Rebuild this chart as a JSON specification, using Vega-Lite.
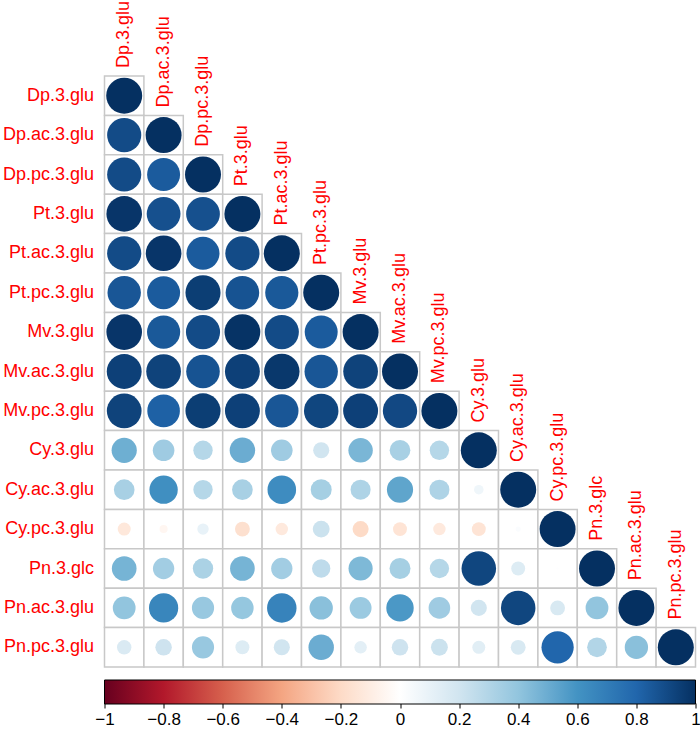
{
"$schema": "https://vega.github.io/schema/vega-lite/v6.json",
"width": 591, "height": 591,
"autosize": "none",
"padding": {"left": 104.5, "top": 76, "right": 4.5, "bottom": 63},
"background": "white",
"config": {"view": {"stroke": null}, "font": "Liberation Sans"},
"datasets": {
"vars": [{"v":"Dp.3.glu"},{"v":"Dp.ac.3.glu"},{"v":"Dp.pc.3.glu"},{"v":"Pt.3.glu"},{"v":"Pt.ac.3.glu"},{"v":"Pt.pc.3.glu"},{"v":"Mv.3.glu"},{"v":"Mv.ac.3.glu"},{"v":"Mv.pc.3.glu"},{"v":"Cy.3.glu"},{"v":"Cy.ac.3.glu"},{"v":"Cy.pc.3.glu"},{"v":"Pn.3.glc"},{"v":"Pn.ac.3.glu"},{"v":"Pn.pc.3.glu"}],
"cells": [
{"a":"Dp.3.glu","b":"Dp.3.glu","r":1},
{"a":"Dp.ac.3.glu","b":"Dp.3.glu","r":0.9},{"a":"Dp.ac.3.glu","b":"Dp.ac.3.glu","r":1},
{"a":"Dp.pc.3.glu","b":"Dp.3.glu","r":0.9},{"a":"Dp.pc.3.glu","b":"Dp.ac.3.glu","r":0.84},{"a":"Dp.pc.3.glu","b":"Dp.pc.3.glu","r":1},
{"a":"Pt.3.glu","b":"Dp.3.glu","r":0.98},{"a":"Pt.3.glu","b":"Dp.ac.3.glu","r":0.88},{"a":"Pt.3.glu","b":"Dp.pc.3.glu","r":0.88},{"a":"Pt.3.glu","b":"Pt.3.glu","r":1},
{"a":"Pt.ac.3.glu","b":"Dp.3.glu","r":0.9},{"a":"Pt.ac.3.glu","b":"Dp.ac.3.glu","r":0.98},{"a":"Pt.ac.3.glu","b":"Dp.pc.3.glu","r":0.84},{"a":"Pt.ac.3.glu","b":"Pt.3.glu","r":0.9},{"a":"Pt.ac.3.glu","b":"Pt.ac.3.glu","r":1},
{"a":"Pt.pc.3.glu","b":"Dp.3.glu","r":0.86},{"a":"Pt.pc.3.glu","b":"Dp.ac.3.glu","r":0.84},{"a":"Pt.pc.3.glu","b":"Dp.pc.3.glu","r":0.95},{"a":"Pt.pc.3.glu","b":"Pt.3.glu","r":0.87},{"a":"Pt.pc.3.glu","b":"Pt.ac.3.glu","r":0.85},{"a":"Pt.pc.3.glu","b":"Pt.pc.3.glu","r":1},
{"a":"Mv.3.glu","b":"Dp.3.glu","r":0.98},{"a":"Mv.3.glu","b":"Dp.ac.3.glu","r":0.85},{"a":"Mv.3.glu","b":"Dp.pc.3.glu","r":0.9},{"a":"Mv.3.glu","b":"Pt.3.glu","r":0.99},{"a":"Mv.3.glu","b":"Pt.ac.3.glu","r":0.9},{"a":"Mv.3.glu","b":"Pt.pc.3.glu","r":0.84},{"a":"Mv.3.glu","b":"Mv.3.glu","r":1},
{"a":"Mv.ac.3.glu","b":"Dp.3.glu","r":0.94},{"a":"Mv.ac.3.glu","b":"Dp.ac.3.glu","r":0.93},{"a":"Mv.ac.3.glu","b":"Dp.pc.3.glu","r":0.87},{"a":"Mv.ac.3.glu","b":"Pt.3.glu","r":0.94},{"a":"Mv.ac.3.glu","b":"Pt.ac.3.glu","r":0.97},{"a":"Mv.ac.3.glu","b":"Pt.pc.3.glu","r":0.86},{"a":"Mv.ac.3.glu","b":"Mv.3.glu","r":0.93},{"a":"Mv.ac.3.glu","b":"Mv.ac.3.glu","r":1},
{"a":"Mv.pc.3.glu","b":"Dp.3.glu","r":0.93},{"a":"Mv.pc.3.glu","b":"Dp.ac.3.glu","r":0.82},{"a":"Mv.pc.3.glu","b":"Dp.pc.3.glu","r":0.95},{"a":"Mv.pc.3.glu","b":"Pt.3.glu","r":0.94},{"a":"Mv.pc.3.glu","b":"Pt.ac.3.glu","r":0.86},{"a":"Mv.pc.3.glu","b":"Pt.pc.3.glu","r":0.92},{"a":"Mv.pc.3.glu","b":"Mv.3.glu","r":0.94},{"a":"Mv.pc.3.glu","b":"Mv.ac.3.glu","r":0.91},{"a":"Mv.pc.3.glu","b":"Mv.pc.3.glu","r":1},
{"a":"Cy.3.glu","b":"Dp.3.glu","r":0.49},{"a":"Cy.3.glu","b":"Dp.ac.3.glu","r":0.36},{"a":"Cy.3.glu","b":"Dp.pc.3.glu","r":0.29},{"a":"Cy.3.glu","b":"Pt.3.glu","r":0.5},{"a":"Cy.3.glu","b":"Pt.ac.3.glu","r":0.36},{"a":"Cy.3.glu","b":"Pt.pc.3.glu","r":0.2},{"a":"Cy.3.glu","b":"Mv.3.glu","r":0.46},{"a":"Cy.3.glu","b":"Mv.ac.3.glu","r":0.33},{"a":"Cy.3.glu","b":"Mv.pc.3.glu","r":0.29},{"a":"Cy.3.glu","b":"Cy.3.glu","r":1},
{"a":"Cy.ac.3.glu","b":"Dp.3.glu","r":0.33},{"a":"Cy.ac.3.glu","b":"Dp.ac.3.glu","r":0.62},{"a":"Cy.ac.3.glu","b":"Dp.pc.3.glu","r":0.29},{"a":"Cy.ac.3.glu","b":"Pt.3.glu","r":0.33},{"a":"Cy.ac.3.glu","b":"Pt.ac.3.glu","r":0.63},{"a":"Cy.ac.3.glu","b":"Pt.pc.3.glu","r":0.34},{"a":"Cy.ac.3.glu","b":"Mv.3.glu","r":0.31},{"a":"Cy.ac.3.glu","b":"Mv.ac.3.glu","r":0.53},{"a":"Cy.ac.3.glu","b":"Mv.pc.3.glu","r":0.31},{"a":"Cy.ac.3.glu","b":"Cy.3.glu","r":0.07},{"a":"Cy.ac.3.glu","b":"Cy.ac.3.glu","r":1},
{"a":"Cy.pc.3.glu","b":"Dp.3.glu","r":-0.13},{"a":"Cy.pc.3.glu","b":"Dp.ac.3.glu","r":-0.05},{"a":"Cy.pc.3.glu","b":"Dp.pc.3.glu","r":0.1},{"a":"Cy.pc.3.glu","b":"Pt.3.glu","r":-0.17},{"a":"Cy.pc.3.glu","b":"Pt.ac.3.glu","r":-0.12},{"a":"Cy.pc.3.glu","b":"Pt.pc.3.glu","r":0.22},{"a":"Cy.pc.3.glu","b":"Mv.3.glu","r":-0.2},{"a":"Cy.pc.3.glu","b":"Mv.ac.3.glu","r":-0.15},{"a":"Cy.pc.3.glu","b":"Mv.pc.3.glu","r":-0.12},{"a":"Cy.pc.3.glu","b":"Cy.3.glu","r":-0.15},{"a":"Cy.pc.3.glu","b":"Cy.ac.3.glu","r":0.02},{"a":"Cy.pc.3.glu","b":"Cy.pc.3.glu","r":1},
{"a":"Pn.3.glc","b":"Dp.3.glu","r":0.47},{"a":"Pn.3.glc","b":"Dp.ac.3.glu","r":0.35},{"a":"Pn.3.glc","b":"Dp.pc.3.glu","r":0.32},{"a":"Pn.3.glc","b":"Pt.3.glu","r":0.47},{"a":"Pn.3.glc","b":"Pt.ac.3.glu","r":0.35},{"a":"Pn.3.glc","b":"Pt.pc.3.glu","r":0.26},{"a":"Pn.3.glc","b":"Mv.3.glu","r":0.45},{"a":"Pn.3.glc","b":"Mv.ac.3.glu","r":0.34},{"a":"Pn.3.glc","b":"Mv.pc.3.glu","r":0.29},{"a":"Pn.3.glc","b":"Cy.3.glu","r":0.92},{"a":"Pn.3.glc","b":"Cy.ac.3.glu","r":0.15},{"a":"Pn.3.glc","b":"Cy.pc.3.glu","r":0.005},{"a":"Pn.3.glc","b":"Pn.3.glc","r":1},
{"a":"Pn.ac.3.glu","b":"Dp.3.glu","r":0.4},{"a":"Pn.ac.3.glu","b":"Dp.ac.3.glu","r":0.66},{"a":"Pn.ac.3.glu","b":"Dp.pc.3.glu","r":0.38},{"a":"Pn.ac.3.glu","b":"Pt.3.glu","r":0.39},{"a":"Pn.ac.3.glu","b":"Pt.ac.3.glu","r":0.67},{"a":"Pn.ac.3.glu","b":"Pt.pc.3.glu","r":0.42},{"a":"Pn.ac.3.glu","b":"Mv.3.glu","r":0.37},{"a":"Pn.ac.3.glu","b":"Mv.ac.3.glu","r":0.58},{"a":"Pn.ac.3.glu","b":"Mv.pc.3.glu","r":0.36},{"a":"Pn.ac.3.glu","b":"Cy.3.glu","r":0.2},{"a":"Pn.ac.3.glu","b":"Cy.ac.3.glu","r":0.92},{"a":"Pn.ac.3.glu","b":"Cy.pc.3.glu","r":0.17},{"a":"Pn.ac.3.glu","b":"Pn.3.glc","r":0.4},{"a":"Pn.ac.3.glu","b":"Pn.ac.3.glu","r":1},
{"a":"Pn.pc.3.glu","b":"Dp.3.glu","r":0.16},{"a":"Pn.pc.3.glu","b":"Dp.ac.3.glu","r":0.21},{"a":"Pn.pc.3.glu","b":"Dp.pc.3.glu","r":0.38},{"a":"Pn.pc.3.glu","b":"Pt.3.glu","r":0.15},{"a":"Pn.pc.3.glu","b":"Pt.ac.3.glu","r":0.2},{"a":"Pn.pc.3.glu","b":"Pt.pc.3.glu","r":0.5},{"a":"Pn.pc.3.glu","b":"Mv.3.glu","r":0.12},{"a":"Pn.pc.3.glu","b":"Mv.ac.3.glu","r":0.21},{"a":"Pn.pc.3.glu","b":"Mv.pc.3.glu","r":0.22},{"a":"Pn.pc.3.glu","b":"Cy.3.glu","r":0.13},{"a":"Pn.pc.3.glu","b":"Cy.ac.3.glu","r":0.17},{"a":"Pn.pc.3.glu","b":"Cy.pc.3.glu","r":0.8},{"a":"Pn.pc.3.glu","b":"Pn.3.glc","r":0.3},{"a":"Pn.pc.3.glu","b":"Pn.ac.3.glu","r":0.42},{"a":"Pn.pc.3.glu","b":"Pn.pc.3.glu","r":1}
]
},
"layer": [
{
"data": {"name": "cells"},
"mark": {"type": "rect", "fill": "white", "stroke": "#c8c8c8", "strokeWidth": 1.5},
"encoding": {
"x": {"field": "b", "type": "nominal", "scale": {"type": "band", "domain": ["Dp.3.glu","Dp.ac.3.glu","Dp.pc.3.glu","Pt.3.glu","Pt.ac.3.glu","Pt.pc.3.glu","Mv.3.glu","Mv.ac.3.glu","Mv.pc.3.glu","Cy.3.glu","Cy.ac.3.glu","Cy.pc.3.glu","Pn.3.glc","Pn.ac.3.glu","Pn.pc.3.glu"], "paddingInner": 0, "paddingOuter": 0}, "axis": null},
"y": {"field": "a", "type": "nominal", "scale": {"type": "band", "domain": ["Dp.3.glu","Dp.ac.3.glu","Dp.pc.3.glu","Pt.3.glu","Pt.ac.3.glu","Pt.pc.3.glu","Mv.3.glu","Mv.ac.3.glu","Mv.pc.3.glu","Cy.3.glu","Cy.ac.3.glu","Cy.pc.3.glu","Pn.3.glc","Pn.ac.3.glu","Pn.pc.3.glu"], "paddingInner": 0, "paddingOuter": 0}, "axis": {"orient": "left", "domain": false, "ticks": false, "grid": false, "title": null, "labelColor": "#ff0000", "labelFontSize": 18, "labelFont": "Liberation Sans", "labelPadding": 11, "labelLimit": 0}}
}
},
{
"data": {"name": "cells"},
"mark": {"type": "circle", "opacity": 1},
"encoding": {
"x": {"field": "b", "type": "nominal", "scale": {"type": "band", "domain": ["Dp.3.glu","Dp.ac.3.glu","Dp.pc.3.glu","Pt.3.glu","Pt.ac.3.glu","Pt.pc.3.glu","Mv.3.glu","Mv.ac.3.glu","Mv.pc.3.glu","Cy.3.glu","Cy.ac.3.glu","Cy.pc.3.glu","Pn.3.glc","Pn.ac.3.glu","Pn.pc.3.glu"], "paddingInner": 0, "paddingOuter": 0}, "axis": null},
"y": {"field": "a", "type": "nominal", "scale": {"type": "band", "domain": ["Dp.3.glu","Dp.ac.3.glu","Dp.pc.3.glu","Pt.3.glu","Pt.ac.3.glu","Pt.pc.3.glu","Mv.3.glu","Mv.ac.3.glu","Mv.pc.3.glu","Cy.3.glu","Cy.ac.3.glu","Cy.pc.3.glu","Pn.3.glc","Pn.ac.3.glu","Pn.pc.3.glu"], "paddingInner": 0, "paddingOuter": 0}, "axis": {"orient": "left", "domain": false, "ticks": false, "grid": false, "title": null, "labelColor": "#ff0000", "labelFontSize": 18, "labelFont": "Liberation Sans", "labelPadding": 11, "labelLimit": 0}},
"size": {"field": "r", "type": "quantitative", "scale": {"type": "linear", "domain": [-1, 0, 1], "range": [1296, 0, 1296]}, "legend": null},
"color": {"field": "r", "type": "quantitative", "scale": {"type": "linear", "domain": [-1, -0.8, -0.6, -0.4, -0.2, 0, 0.2, 0.4, 0.6, 0.8, 1], "range": ["#67001F", "#B2182B", "#D6604D", "#F4A582", "#FDDBC7", "#FFFFFF", "#D1E5F0", "#92C5DE", "#4393C3", "#2166AC", "#053061"], "interpolate": "rgb"}, "legend": {"orient": "none", "legendX": 0, "legendY": 604, "direction": "horizontal", "gradientLength": 591, "gradientThickness": 24, "gradientStrokeColor": "black", "gradientStrokeWidth": 1, "title": null, "labelExpr": "''", "labelOpacity": 0, "padding": 0}}
}
},
{
"data": {"name": "vars"},
"mark": {"type": "text", "angle": 270, "align": "left", "baseline": "middle", "dx": 8, "fontSize": 18, "font": "Liberation Sans", "color": "#ff0000"},
"encoding": {
"x": {"field": "v", "type": "nominal", "scale": {"type": "band", "domain": ["Dp.3.glu","Dp.ac.3.glu","Dp.pc.3.glu","Pt.3.glu","Pt.ac.3.glu","Pt.pc.3.glu","Mv.3.glu","Mv.ac.3.glu","Mv.pc.3.glu","Cy.3.glu","Cy.ac.3.glu","Cy.pc.3.glu","Pn.3.glc","Pn.ac.3.glu","Pn.pc.3.glu"], "paddingInner": 0, "paddingOuter": 0}, "axis": null},
"y": {"field": "v", "type": "nominal", "bandPosition": 0, "scale": {"type": "band", "domain": ["Dp.3.glu","Dp.ac.3.glu","Dp.pc.3.glu","Pt.3.glu","Pt.ac.3.glu","Pt.pc.3.glu","Mv.3.glu","Mv.ac.3.glu","Mv.pc.3.glu","Cy.3.glu","Cy.ac.3.glu","Cy.pc.3.glu","Pn.3.glc","Pn.ac.3.glu","Pn.pc.3.glu"], "paddingInner": 0, "paddingOuter": 0}, "axis": {"orient": "left", "domain": false, "ticks": false, "grid": false, "title": null, "labelColor": "#ff0000", "labelFontSize": 18, "labelFont": "Liberation Sans", "labelPadding": 11, "labelLimit": 0}},
"text": {"field": "v", "type": "nominal"}
}
},
{
"data": {"values": [{"t": -1}, {"t": 1}]},
"mark": {"type": "rule", "opacity": 0, "strokeOpacity": 0},
"encoding": {
"x": {"field": "t", "type": "quantitative", "scale": {"domain": [-1, 1], "nice": false, "zero": false}, "axis": {"orient": "bottom", "offset": 36, "values": [-1, -0.8, -0.6, -0.4, -0.2, 0, 0.2, 0.4, 0.6, 0.8, 1], "format": "~g", "domain": false, "grid": false, "ticks": true, "tickColor": "black", "tickSize": 5, "tickWidth": 1, "labelColor": "black", "labelFontSize": 17, "labelFont": "Liberation Sans", "labelPadding": 3, "labelFlush": false, "labelOverlap": false, "title": null}}
}
}
],
"resolve": {"scale": {"x": "independent"}, "axis": {"x": "independent"}}
}
